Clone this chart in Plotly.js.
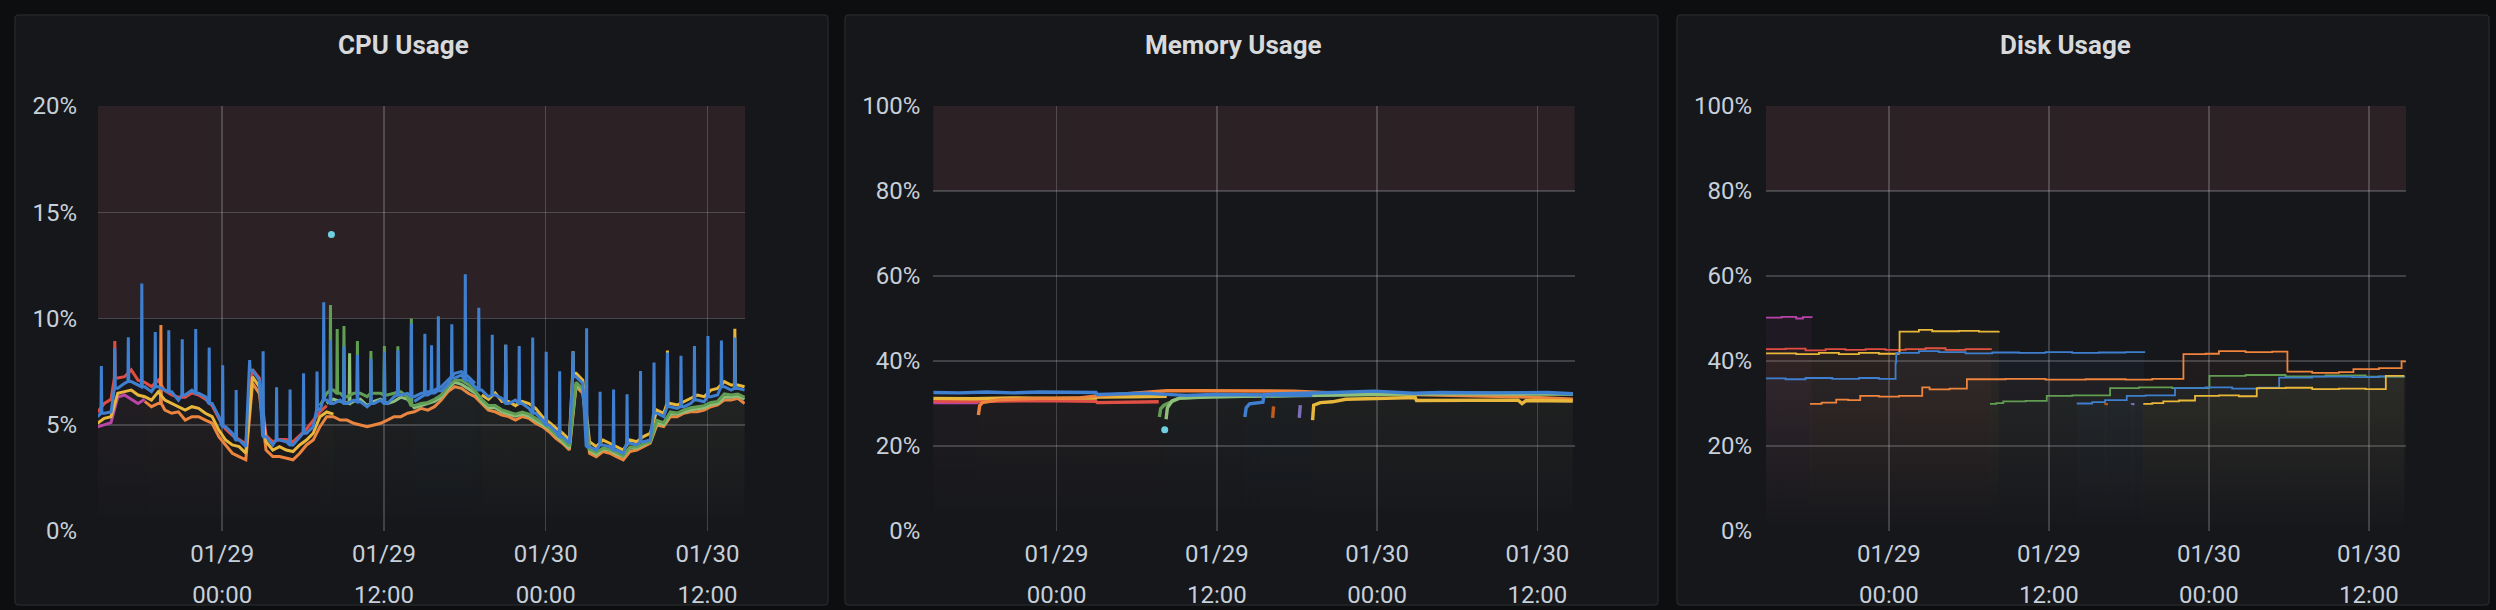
<!DOCTYPE html>
<html>
<head>
<meta charset="utf-8">
<script src="https://cdn.plot.ly/plotly-3.0.1.min.js"></script>
<style>
  html, body { margin: 0; padding: 0; background: #0d0e10; }
  #chart { width: 2496px; height: 610px; }
</style>
</head>
<body>
<div id="chart"></div>
<script>
// ================= DATA =================
// Time origin for all readings (hours are offsets from this moment)
const T0_UTC = Date.UTC(2021, 0, 28, 14, 45);
const STEP_MIN = 30;                      // CPU readings every 30 minutes
const AXIS_RANGE = ['2021-01-28 14:47', '2021-01-30 14:47'];
const TICK0 = '2021-01-29 00:00';

// ---- CPU Usage (%), 30-min grid; *From = grid index of first reading ----
const cpuBlue1From = 0;
const cpuBlue1 = [5.38,5.54,5.6,6.72,6.95,7.03,6.87,6.79,6.56,6.79,6.63,6.55,6.16,6.4,6.63,6.48,6.32,6.0,5.38,4.91,4.6,4.28,3.97,7.57,7.1,4.44,4.05,4.28,4.2,4.05,4.44,4.6,4.91,5.69,6.16,6.0,6.16,6.0,6.16,6.08,5.85,6.0,6.16,6.0,6.32,6.4,6.48,6.32,6.48,6.55,6.63,6.79,7.1,7.42,7.5,7.26,6.95];
const cpuBlue2From = 47;
const cpuBlue2 = [6.1,6.3,6.4,6.5,6.6,6.9,7.2,7.35,7.1,6.8,6.63,6.32,6.4,6.24,6.0,6.16,6.0,5.77,5.54,5.22,4.99,4.67,4.44,4.13,7.26,6.95,3.97,3.81,4.05,3.97,3.81,3.65,4.13,4.05,4.2,4.28,5.54,5.38,5.85,5.77,5.85,6.0,6.16,6.08,6.32,6.4,6.79,6.63,6.71,6.63];
const cpuOrange1From = 7;
const cpuOrange1 = [6.1,5.85,6.0,5.69,5.54,5.61,5.22,5.38,5.38,5.22,5.07,4.44,4.05,3.66,3.5,3.35,6.95,6.48,3.81,3.5,3.5,3.42,3.35,3.66,4.05,4.28,4.91,5.38,5.38,5.22,5.22,5.07,4.99,4.91,4.99,5.07,5.22,5.38,5.38,5.54,5.61,5.77,5.69,5.85,6.16,6.56,6.79,6.71,6.48,6.32,6.0,5.69,5.61,5.46,5.38,5.22,5.38,5.3,5.07,4.91,4.67,4.36,4.13,3.81,6.79,6.48,3.66,3.5,3.74,3.66,3.5,3.35,3.74,3.81,3.97,4.13,4.99,4.91,5.38,5.38,5.54,5.61,5.61,5.69,5.85,5.93,6.16,6.16,6.24,6.0];
const cpuYellow1From = 0;
const cpuYellow1 = [5.07,5.3,5.38,6.48,6.56,6.63,6.4,6.32,6.16,6.55,6.16,6.0,5.85,5.69,5.85,5.77,5.54,5.38,4.75,4.28,4.05,3.97,3.66,7.26,6.79,4.2,3.81,3.97,3.81,3.74,4.05,4.28,4.6,5.38,5.6,5.5];
const cpuYellow2From = 57;
const cpuYellow2 = [6.4,6.2,6.5,6.1,6.1,5.9,6.1,6.0,5.77,5.38,5.1,4.85,4.6,4.3,7.42,7.1,4.2,3.97,4.28,4.13,3.97,3.81,4.28,4.2,4.44,4.6,5.69,5.54,6.0,5.93,6.08,6.24,6.4,6.32,6.63,6.71,7.03,6.87,6.87,6.79];
const cpuRedFrom = 0;
const cpuRed = [5.6,6.0,6.2,7.2,7.26,7.58,7.1,7.0,6.8,7.1,6.6,6.4,6.3,6.3,6.5,6.4,6.2,5.9,5.3,4.8,4.5,4.3,4.1,7.6,7.2,4.5,4.2,4.3,4.3,4.2,4.5,4.8,5.2,5.6,5.9];
const cpuPurple1From = 0;
const cpuPurple1 = [4.9,5.0,5.1,6.3,6.4,6.2,6.0,6.2];
const cpuGreenFrom = 33;
const cpuGreen = [5.9,6.48,6.63,6.48,6.32,6.48,6.48,6.32,6.48,6.48,6.4,6.48,6.55,6.3,5.9,6.0,6.05,6.2,6.4,6.8,7.1,7.1,6.9,6.6,6.2,5.9,5.9,5.7,5.6,5.5,5.6,5.5,5.3,5.1,4.85,4.55,4.3,4.0,7.0,6.7,3.85,3.7,3.9,3.85,3.7,3.55,3.95,3.95,4.1,4.2,5.2,5.1,5.6,5.55,5.7,5.8,5.85,5.9,6.05,6.1,6.45,6.4,6.45,6.3];
const cpuLightGreenFrom = 34;
const cpuLightGreen = [6.0,6.2,6.1,6.0,6.1,6.2,5.9,6.1,6.2,6.0,6.1,6.3,6.2,5.8,5.9,6.0,6.1,6.3,6.7,7.0,6.9,6.7,6.5,6.1,5.8,5.8,5.6,5.5,5.4,5.5,5.4,5.2,5.0,4.8,4.5,4.2,3.9,6.9,6.6,3.8,3.6,3.85,3.8,3.6,3.5,3.9,3.9,4.05,4.2,5.1,5.0,5.5,5.5,5.6,5.7,5.75,5.8,5.95,6.0,6.3,6.3,6.35,6.2];
// hourly blue spikes (peak %), n-th spike occurs at hour n + 17 min
const cpuSpikeMinute = 17;
const cpuBlueSpikes = [7.76,8.6,9.12,11.65,9.37,9.45,9.02,9.5,8.64,7.8,6.63,8.04,8.46,6.76,6.66,7.42,7.5,9.0,8.69,8.28,8.1,8.44,8.5,9.77,9.28,10.1,9.73,12.08,10.5,9.24,8.76,8.7,9.1,8.44,7.52,8.44,9.54,6.55,6.66,6.43,7.53,7.93,8.4,8.25,8.71,9.18,8.96,9.1];
// other spikes: [hours, peak %]
const cpuBlueExtraSpikes = [[16.78,10.76],[24.78,8.74]];
const cpuGreenSpikes = [[17.28,10.64],[17.78,9.5],[18.28,9.65],[19.28,8.94],[20.28,8.47],[21.28,8.7],[22.28,8.69],[23.28,10.0]];
const cpuLightGreenSpikes = [[18.7,8.36]];
const cpuOrangeSpikes = [[4.7,9.69]];
const cpuRedSpikes = [[1.28,8.94]];
const cpuYellowSpikes = [[30.28,8.77],[35.28,8.46],[42.28,8.49],[47.28,9.52]];
const cpuLightBlueDot = [[17.35,13.95]];

// ---- Memory Usage (%), readings as [hours, %] ----
const memBlue1 = [[0,32.6],[2,32.5],[4,32.7],[6,32.5],[8,32.7],[10,32.6],[12.2,32.6],[12.3,32.1],[14,32.2],[16,32.4],[17,32.2],[19,31.9],[21,32.1],[23,32.0],[25,32.0],[27,31.9],[28.4,31.9]];
const memYellow1 = [[0,31.2],[3,31.1],[6,31.3],[9,31.2],[12.2,31.3],[12.3,31.5],[15,31.6],[17.5,31.7]];
const memRed = [[0,30.6],[4,30.5],[8,30.7],[12.2,30.5],[12.3,30.2],[15,30.3],[16.9,30.4]];
const memPurple1 = [[0,30.2],[1.5,30.3],[3.4,30.2]];
const memOrange1 = [[3.4,27.3],[3.5,29.5],[3.7,30.2],[5,30.9],[8,31.2],[11,31.3],[12.3,31.8],[14,32.2],[16,32.6],[17.5,33.0],[20,33.0],[24,33.0],[27,32.9],[30,32.5],[33,32.3],[36,32.0],[40,31.8],[44,31.6],[47.9,31.0]];
const memGreen = [[16.95,26.8],[17.05,28.8],[17.3,29.6],[17.6,30.0],[18.4,31.2],[20,31.5],[24,31.8],[28,32.0],[32,32.1],[36,32.4],[40,32.5],[44,32.4],[47.9,32.3]];
const memLightGreen = [[17.45,26.3],[17.55,29.0],[17.9,30.6],[18.5,31.3],[21,31.6],[25,31.8],[30,32.0],[35,32.2],[40,32.3],[44,32.3],[47.9,32.2]];
const memBlue2 = [[23.35,26.8],[23.45,29.0],[23.7,29.9],[24.7,30.3],[24.8,32.1],[26,32.3],[30,32.6],[33,32.9],[36,32.4],[38,32.6],[42,32.5],[46,32.6],[47.9,32.3]];
const memOrange2 = [[25.43,26.6],[25.5,29.3]];
const memPurple2 = [[27.42,26.6],[27.5,29.6]];
const memYellow2 = [[28.42,26.1],[28.5,29.6],[29,30.2],[29.9,30.4],[30.9,31.0],[33.1,31.2],[36.1,31.4],[36.2,30.7],[40,30.8],[43.8,30.8],[44.1,30.0],[44.4,30.7],[47.9,30.6]];
const memLightBlueDot = [[17.35,23.8]];

// ---- Disk Usage (%), readings as [hours, %] (stepped) ----
const diskPurple1 = [[0,50.2],[1.2,50.4],[2.3,50.0],[2.8,50.3],[3.45,50.1]];
const diskRed = [[0,42.8],[1.5,42.9],[3.0,42.5],[4.5,42.8],[6,42.6],[7.5,42.8],[9,42.6],[10.5,42.8],[12,43.0],[13.5,42.6],[15,42.8],[16.9,42.6]];
const diskYellow1 = [[0,41.8],[2.3,41.6],[4,41.9],[5.5,41.6],[7,41.9],[8.5,41.7],[10.0,42.0],[10.05,46.9],[11.5,47.3],[12.5,47.0],[14.5,47.1],[16,46.9],[17.5,47.0]];
const diskBlue1 = [[0,35.9],[1.5,35.7],[3,36.0],[5,35.8],[7,36.0],[8.5,35.8],[9.75,39.6],[9.8,41.9],[11.5,42.3],[13,42.1],[15,41.8],[17,42.0],[19,41.9],[21,42.1],[23,41.9],[25,42.0],[27,42.1],[28.4,41.9]];
const diskOrange1 = [[3.33,29.9],[4.2,30.2],[5.3,30.9],[6.2,30.8],[7.1,31.8],[8.5,31.6],[10,31.8],[11.75,33.8],[12.3,33.3],[13.8,33.5],[15.1,35.7],[18,35.8],[21,35.6],[24,35.7],[27,35.6],[29,35.8],[31.34,41.6],[33,41.7],[34,42.3],[36,42.1],[38,42.2],[39.14,37.5],[41,37.2],[43,37.4],[44.09,38.1],[46,38.3],[47.7,39.9],[48,40.0]];
const diskGreen = [[16.83,29.9],[17.3,30.1],[17.83,30.5],[19.5,30.6],[21.09,31.8],[23,31.9],[25.84,33.6],[28,33.8],[30.5,33.6],[33.29,36.5],[36,36.7],[39,36.4],[42,36.6],[45,36.3],[47.9,36.4]];
const diskBlue2 = [[23.34,30.0],[24.5,30.3],[25.46,30.8],[27.09,31.8],[28.5,31.9],[30.71,33.6],[33,33.8],[35,33.5],[37,33.7],[38.52,36.1],[41,36.3],[44,36.2],[46,36.4],[47.9,36.3]];
const diskYellow2 = [[28.33,29.9],[29.0,30.1],[29.83,30.5],[31,30.7],[32.21,31.8],[34,31.9],[35.5,31.7],[36.84,33.6],[39,33.7],[41,33.4],[43,33.5],[45,33.4],[46.52,36.5],[47.9,36.5]];
const diskOrange2 = [[25.4,29.9],[25.6,29.6]];
const diskPurple2 = [[27.4,29.9],[27.6,29.6]];

// ================= STYLE =================
const C = {
  blue: '#3f7fd0', orange: '#EF843C', yellow: '#EAB839', red: '#E24D42',
  green: '#629E51', lightGreen: '#8fc07a', purple: '#BA43A9', violet: '#806EB7',
  darkOrange: '#C15C17', lightBlue: '#6ED0E0'
};
const FONT = 'Roboto, "Noto Sans", "DejaVu Sans", sans-serif';

// ================= HELPERS =================
function toTime(h) {
  return new Date(T0_UTC + h * 3600000).toISOString().replace('T', ' ').replace('Z', '');
}
function gridPts(vals, from) {
  return vals.map((v, i) => [(from + i) * STEP_MIN / 60, v]);
}
function withSpikes(pts, spikes) {
  const out = pts.slice();
  const d = 2 / 60;
  spikes.forEach(([h, p]) => {
    let best = pts[0];
    pts.forEach(q => { if (Math.abs(q[0] - h) < Math.abs(best[0] - h)) best = q; });
    out.push([h - d, best[1]], [h, p], [h + d, best[1]]);
  });
  out.sort((a, b) => a[0] - b[0]);
  return out;
}
function rgba(hex, a) {
  const n = parseInt(hex.slice(1), 16);
  return `rgba(${(n >> 16) & 255},${(n >> 8) & 255},${n & 255},${a})`;
}
function lineTrace(pts, color, ax, o) {
  const s = ax === 1 ? '' : String(ax);
  return {
    type: 'scatter', mode: 'lines',
    x: pts.map(p => toTime(p[0])), y: pts.map(p => p[1]),
    xaxis: 'x' + s, yaxis: 'y' + s,
    line: { color: color, width: o.width, shape: o.shape || 'linear' },
    fill: 'tozeroy',
    fillgradient: {
      type: 'vertical', start: 0, stop: o.stop,
      colorscale: [[0, rgba(color, 0)], [1, rgba(color, o.alpha)]]
    },
    hoverinfo: 'skip', showlegend: false
  };
}
function dotTrace(pts, color, ax) {
  const s = ax === 1 ? '' : String(ax);
  return {
    type: 'scatter', mode: 'markers',
    x: pts.map(p => toTime(p[0])), y: pts.map(p => p[1]),
    xaxis: 'x' + s, yaxis: 'y' + s,
    marker: { color: color, size: 7 }, hoverinfo: 'skip', showlegend: false
  };
}
// empty trace that just registers the overlay time-label axis
function axisHolder(xa, ya) {
  return { type: 'scatter', mode: 'lines', x: [], y: [], xaxis: xa, yaxis: ya,
           hoverinfo: 'skip', showlegend: false };
}

// ================= TRACES =================
const cpuO = { width: 3, stop: 20, alpha: 0.06 };
const blueSpikesAll = cpuBlueSpikes.map((p, n) => [n + cpuSpikeMinute / 60, p]);
const traces = [
  // CPU
  lineTrace(gridPts(cpuPurple1, cpuPurple1From), C.purple, 1, cpuO),
  lineTrace(withSpikes(gridPts(cpuRed, cpuRedFrom), cpuRedSpikes), C.red, 1, cpuO),
  lineTrace(withSpikes(gridPts(cpuOrange1, cpuOrange1From), cpuOrangeSpikes), C.orange, 1, cpuO),
  lineTrace(gridPts(cpuYellow1, cpuYellow1From), C.yellow, 1, cpuO),
  lineTrace(withSpikes(gridPts(cpuYellow2, cpuYellow2From), cpuYellowSpikes), C.yellow, 1, cpuO),
  lineTrace(withSpikes(gridPts(cpuLightGreen, cpuLightGreenFrom), cpuLightGreenSpikes), C.lightGreen, 1, cpuO),
  lineTrace(withSpikes(gridPts(cpuGreen, cpuGreenFrom), cpuGreenSpikes), C.green, 1, cpuO),
  lineTrace(withSpikes(gridPts(cpuBlue1, cpuBlue1From),
            blueSpikesAll.slice(0, 24).concat(cpuBlueExtraSpikes.slice(0, 1))), C.blue, 1, cpuO),
  lineTrace(withSpikes(gridPts(cpuBlue2, cpuBlue2From),
            blueSpikesAll.slice(24).concat(cpuBlueExtraSpikes.slice(1))), C.blue, 1, cpuO),
  dotTrace(cpuLightBlueDot, C.lightBlue, 1)
];
const memO = { width: 3.4, stop: 100, alpha: 0.045 };
[
  [memPurple1, C.purple], [memRed, C.red], [memYellow1, C.yellow], [memOrange1, C.orange],
  [memGreen, C.green], [memLightGreen, C.lightGreen], [memOrange2, C.darkOrange],
  [memPurple2, C.violet], [memYellow2, C.yellow], [memBlue1, C.blue], [memBlue2, C.blue]
].forEach(([d, c]) => traces.push(lineTrace(d, c, 2, memO)));
traces.push(dotTrace(memLightBlueDot, C.lightBlue, 2));

const diskO = { width: 1.8, stop: 100, alpha: 0.12, shape: 'hv' };
[
  [diskPurple1, C.purple], [diskRed, C.red], [diskYellow1, C.yellow], [diskBlue1, C.blue],
  [diskOrange1, C.orange], [diskGreen, C.green], [diskBlue2, C.blue], [diskYellow2, C.yellow],
  [diskOrange2, C.darkOrange], [diskPurple2, C.violet]
].forEach(([d, c]) => traces.push(lineTrace(d, c, 3, diskO)));

traces.push(axisHolder('x4', 'y'), axisHolder('x5', 'y2'), axisHolder('x6', 'y3'));

// ================= LAYOUT =================
const W = 2496, H = 610;
const px = v => v / W, py = v => 1 - v / H;
const Y_DOM = [py(531), py(106)];
const gridColor = 'rgba(215,218,228,0.22)';
const tickFont = { family: FONT, size: 24, color: '#c7d0d9' };

// date line of the tick labels (with grid) and the time line (overlay axis)
function xAxis(dom, anchor) {
  return {
    type: 'date', domain: dom, anchor: anchor, range: AXIS_RANGE,
    tick0: TICK0, dtick: 12 * 3600000, tickformat: '%m/%d',
    showgrid: true, gridcolor: gridColor, gridwidth: 1.5, zeroline: false,
    showline: false, ticks: '', tickfont: tickFont, ticklabelstandoff: 6,
    fixedrange: true
  };
}
function xTimeAxis(over, anchor) {
  return {
    type: 'date', overlaying: over, anchor: anchor, range: AXIS_RANGE,
    tick0: TICK0, dtick: 12 * 3600000, tickformat: '%H:%M',
    showgrid: false, zeroline: false, showline: false, ticks: '',
    tickfont: tickFont, ticklabelstandoff: 47, fixedrange: true
  };
}
function yAxis(anchor, top, dtick, standoff) {
  return {
    domain: Y_DOM, anchor: anchor, range: [0, top], dtick: dtick, ticksuffix: '%',
    showgrid: true, gridcolor: gridColor, gridwidth: 1.5, zeroline: false,
    showline: false, ticks: '', tickfont: tickFont, ticklabelstandoff: standoff,
    fixedrange: true
  };
}
function panel(x0, x1, y0, y1) {
  const r = 4;
  const X0 = px(x0), X1 = px(x1), Yt = py(y0), Yb = py(y1);
  const rx = r / W, ry = r / H;
  return {
    type: 'path', xref: 'paper', yref: 'paper', layer: 'below',
    path: `M ${X0 + rx} ${Yt} L ${X1 - rx} ${Yt} Q ${X1} ${Yt} ${X1} ${Yt - ry} ` +
          `L ${X1} ${Yb + ry} Q ${X1} ${Yb} ${X1 - rx} ${Yb} L ${X0 + rx} ${Yb} ` +
          `Q ${X0} ${Yb} ${X0} ${Yb + ry} L ${X0} ${Yt - ry} Q ${X0} ${Yt} ${X0 + rx} ${Yt} Z`,
    fillcolor: '#16171b', line: { color: '#24262a', width: 1.5 }
  };
}
function threshold(ax, lo, hi) {
  const s = ax === 1 ? '' : String(ax);
  return {
    type: 'rect', xref: 'x' + s + ' domain', yref: 'y' + s, x0: 0, x1: 1, y0: lo, y1: hi,
    layer: 'below', fillcolor: '#2c2225', line: { width: 0 }
  };
}
function title(text, cx) {
  return {
    text: text, xref: 'paper', yref: 'paper', x: px(cx), y: py(45),
    xanchor: 'center', yanchor: 'middle', showarrow: false,
    font: { family: FONT, size: 26, color: '#d8d9da', weight: 'bold' }
  };
}

const layout = {
  width: W, height: H,
  margin: { l: 0, r: 0, t: 0, b: 0, pad: 0 },
  paper_bgcolor: '#0d0e10', plot_bgcolor: 'rgba(0,0,0,0)',
  font: { family: FONT, color: '#c7d0d9' },
  showlegend: false, hovermode: false,
  xaxis: xAxis([px(98), px(745)], 'y'),
  yaxis: yAxis('x', 20, 5, 20),
  xaxis2: xAxis([px(933.4), px(1574.6)], 'y2'),
  yaxis2: yAxis('x2', 100, 20, 12),
  xaxis3: xAxis([px(1766), px(2406)], 'y3'),
  yaxis3: yAxis('x3', 100, 20, 13),
  xaxis4: xTimeAxis('x', 'y'),
  xaxis5: xTimeAxis('x2', 'y2'),
  xaxis6: xTimeAxis('x3', 'y3'),
  shapes: [
    panel(15, 828, 15, 605), panel(845, 1658, 15, 605), panel(1677, 2489, 15, 605),
    threshold(1, 10, 20), threshold(2, 80, 100), threshold(3, 80, 100)
  ],
  annotations: [
    title('CPU Usage', 403.5), title('Memory Usage', 1233.5), title('Disk Usage', 2065)
  ]
};

Plotly.newPlot('chart', traces, layout, { staticPlot: true, displayModeBar: false });
</script>
</body>
</html>
